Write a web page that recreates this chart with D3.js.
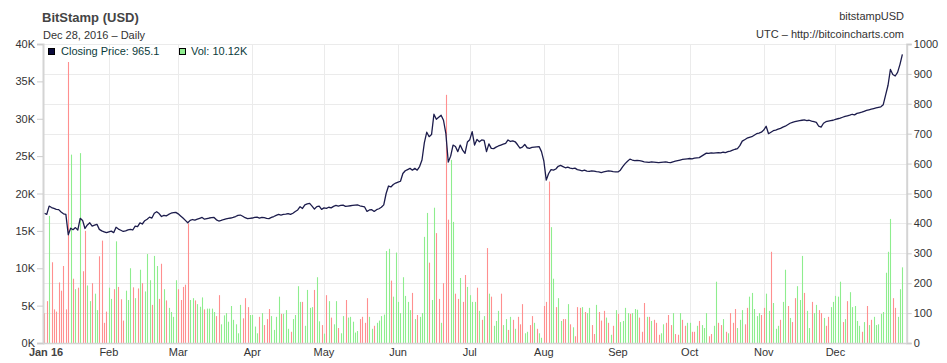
<!DOCTYPE html>
<html><head><meta charset="utf-8">
<script src="https://cdn.jsdelivr.net/npm/d3@7"></script>
<style>
html,body{margin:0;padding:0;background:#fff;}
svg{display:block;font-family:"Liberation Sans",Arial,sans-serif;}
</style></head><body>
<svg id="c" width="947" height="363"></svg>
<script>
// ---- data ----
const startDate = "2016-01-04";   // first daily bar (close)
const title = "BitStamp (USD)";
const subtitle = "Dec 28, 2016 \u2013 Daily";
const symbolLabel = "bitstampUSD";
const sourceLabel = "UTC \u2013 http://bitcoincharts.com";
const lastClose = "965.1";
const lastVol = "10.12K";
const volTicks = [0,5,10,15,20,25,30,35,40];
const priceTicks = [0,100,200,300,400,500,600,700,800,900,1000];
const monthLabels = ["Jan 16","Feb","Mar","Apr","May","Jun","Jul","Aug","Sep","Oct","Nov","Dec"];

// daily closing price (USD)
const closePrice = [
434,430,458,453,450,447,446,438,432,430,
362,384,379,386,378,417,410,383,395,402,
391,394,397,380,375,372,369,372,374,369,
387,381,377,373,375,378,380,378,391,389,
402,398,409,414,421,418,434,439,433,423,
427,425,430,434,436,437,432,425,418,410,
402,410,413,411,414,417,420,414,416,418,
419,420,412,408,410,413,415,417,418,420,
423,427,428,424,419,416,417,418,420,421,
418,420,419,417,416,420,423,427,430,428,
430,431,433,430,434,440,445,456,450,462,
465,467,458,448,456,458,447,452,450,454,
452,457,460,458,460,461,457,458,459,460,
461,462,459,457,455,440,445,446,440,446,
449,454,462,500,525,522,530,535,538,541,
567,576,580,584,578,584,578,590,612,670,
705,690,697,765,748,755,762,745,700,605,
625,662,657,640,662,645,634,672,680,707,
662,681,673,679,678,640,666,651,650,655,
659,662,665,668,679,674,676,673,663,652,
655,664,653,651,654,655,656,657,640,608,
545,567,580,578,582,591,594,590,586,588,
585,583,585,580,578,576,578,575,574,576,
575,573,572,570,572,574,576,575,573,572,
572,578,590,600,608,615,612,610,611,610,
608,606,605,604,606,605,604,603,604,605,
606,604,603,606,608,610,612,614,615,616,
617,616,618,619,620,625,630,635,634,636,
635,636,637,636,638,637,640,642,645,648,
650,660,675,680,685,688,690,695,700,702,
705,712,725,700,705,710,712,715,718,722,
725,730,735,738,740,742,744,745,746,744,
745,742,740,738,725,722,735,740,742,744,
745,748,750,752,755,758,760,762,765,763,
768,770,772,775,778,780,782,784,786,788,
790,797,830,862,915,898,893,905,932,965
];

// daily volume (thousand BTC)
const volumeK = [
4.0,5.6,17.0,10.8,4.5,4.2,8.1,7.0,10.3,4.5,
37.6,25.2,8.6,7.2,7.4,25.4,9.6,15.0,7.7,5.6,
8.0,6.6,4.4,11.6,13.7,2.7,4.2,7.4,5.9,7.2,
13.6,7.5,5.85,3.0,7.0,5.75,10.0,7.45,6.0,7.3,
9.8,8.0,6.9,11.9,8.4,5.1,11.65,10.3,5.9,10.6,
7.2,5.7,4.7,4.15,3.5,8.4,7.2,5.75,7.5,7.8,
16.0,5.75,6.0,5.7,5.2,4.85,6.1,4.5,4.6,4.6,
4.6,4.15,3.6,6.4,2.5,3.7,4.0,2.85,4.95,3.1,
2.5,1.3,5.1,3.3,6.0,4.8,3.75,3.75,
2.2,1.3,3.5,4.0,2.4,3.2,4.55,3.6,1.75,3.5,
6.2,3.9,3.9,4.4,1.9,1.5,3.2,3.75,7.6,5.5,
5.5,2.3,7.1,4.7,4.8,7.1,8.8,2.9,2.4,1.25,
6.4,5.6,3.4,2.5,5.6,2.0,1.3,3.6,5.75,3.4,
3.5,2.85,1.4,1.6,3.2,3.5,2.7,6.0,3.5,1.9,
2.3,2.7,3.0,3.6,3.8,12.3,12.6,8.35,6.2,12.1,
5.5,4.0,8.8,6.3,5.5,4.4,6.7,3.2,3.75,3.5,
4.0,14.2,17.4,10.75,5.75,18.1,14.7,5.9,2.7,8.0,
33.2,16.5,24.5,16.2,6.6,5.9,8.7,5.5,9.1,7.5,
6.4,5.5,
5.5,7.4,4.3,3.1,3.6,12.7,6.6,6.2,2.3,2.95,
4.3,6.6,2.4,3.2,1.75,3.5,3.1,1.9,3.5,2.5,
5.2,1.3,1.5,2.4,3.6,2.7,1.9,1.3,0.7,4.95,
5.5,21.6,15.5,8.6,4.8,6.0,2.95,3.2,3.2,5.2,
2.5,2.1,0.9,4.8,4.7,4.8,4.15,4.0,4.7,2.4,
1.2,5.1,4.15,3.0,4.3,3.4,2.7,1.1,2.3,4.4,
3.9,2.8,2.95,4.7,4.0,3.9,4.0,4.55,4.45,3.4,
1.5,5.35,3.5,3.5,2.95,3.1,2.7,1.1,1.3,2.5,
2.7,3.75,2.4,4.0,1.2,1.1,4.0,3.1,2.3,2.7,
2.7,
1.5,1.5,2.3,2.95,2.4,2.0,4.0,0.9,1.2,2.3,
8.2,2.7,2.4,3.2,1.5,1.3,4.0,2.7,4.55,2.0,
3.1,4.4,2.5,4.7,6.2,6.7,4.55,3.6,4.0,3.75,
4.7,6.6,4.3,12.2,5.35,1.9,2.3,3.1,5.5,9.8,
4.95,3.35,2.8,6.0,7.6,5.75,11.65,6.7,4.3,2.0,
5.5,4.0,5.1,4.4,4.0,3.35,2.3,3.5,4.8,5.5,
6.3,6.2,8.2,2.8,3.2,5.6,6.8,4.8,4.95,2.95,
2.3,1.5,2.8,4.95,2.4,3.1,3.5,2.4,2.5,3.9,
4.15,9.4,12.2,16.6,6.0,4.7,3.5,7.2,10.12
];

// bar colour: g = close up, r = close down
const volDir = (
"rrgrrrrrrr"+"rgrgrgrrgg"+"rggrrrrggr"+"grrrgggrgr"+
"grgggrggrr"+"grggggrrrr"+"rggrgggrgg"+"ggrrgggggg"+
"gggrrrgg"+
"ggrgrrrggg"+"grgggrgggg"+"rggggrggrg"+"rgrggrggrg"+
"ggggrrrrgg"+"rggggggrgg"+"ggggggrgrg"+"gggrggrrgr"+
"rrggrrgrrg"+"gg"+
"grgrgrgrgg"+"grggrgrgrr"+"rggrrgrggr"+"rrggrggrrg"+
"rgrrrgrggr"+"rgrrrgrgrg"+"rggggrgggr"+"rrgrgrrrgg"+
"rrrgrrgrrg"+"g"+
"rrgrgggrrg"+"grrgrgrrrg"+"ggrrgggggr"+"rggrgggrgg"+
"rgrrgggrgg"+"rggrrgrrgg"+"gggrgrgggg"+"grgrgrgggg"+
"ggggrrggg").split("");

// ---- drawing ----
const svg = d3.select("#c");
const parse = d3.utcParse("%Y-%m-%d");
const day0 = parse(startDate);
const data = closePrice.map((p,i)=>({
  date: d3.utcDay.offset(day0, i),
  price: p,
  vol: volumeK[i],
  dir: volDir[i] || "g"
}));

const plotL = 43, plotR = 906.7, plotT = 44, plotB = 343;
const x = d3.scaleUtc()
  .domain([new Date(Date.UTC(2016,0,1)), new Date(Date.UTC(2017,0,1))])
  .range([34.8, 34.8 + 366*2.39]);
const yP = d3.scaleLinear().domain([0,1000]).range([plotB, plotT]);
const yV = d3.scaleLinear().domain([0,40]).range([plotB, plotT]);
const xPos = d => x(d3.utcDay.offset(d.date, 1)); // plotted at close time

// gridlines
const grid = svg.append("g");
const months = d3.utcMonth.range(new Date(Date.UTC(2016,1,1)), new Date(Date.UTC(2016,11,2)));
grid.selectAll("line.v").data(months).join("line")
  .attr("x1", d=>Math.round(x(d))+0.5).attr("x2", d=>Math.round(x(d))+0.5)
  .attr("y1", plotT).attr("y2", plotB)
  .attr("stroke", "#ebebeb").attr("stroke-width", 1);
grid.selectAll("line.h").data(priceTicks.slice(1)).join("line")
  .attr("x1", plotL).attr("x2", plotR)
  .attr("y1", d=>Math.round(yP(d))+0.5).attr("y2", d=>Math.round(yP(d))+0.5)
  .attr("stroke", "#ebebeb").attr("stroke-width", 1);

// volume bars
svg.append("g").selectAll("line").data(data).join("line")
  .attr("x1", d=>Math.round(xPos(d))+0.5).attr("x2", d=>Math.round(xPos(d))+0.5)
  .attr("y1", plotB).attr("y2", d=>yV(d.vol))
  .attr("stroke", d=>d.dir==="r" ? "#ff8f8f" : "#8eed8e")
  .attr("stroke-width", 1.1);

// price line
svg.append("path").datum(data)
  .attr("fill","none").attr("stroke","#1c1c4c").attr("stroke-width",1.3)
  .attr("stroke-linejoin","round")
  .attr("d", d3.line().x(xPos).y(d=>yP(d.price)));

// axes
const axL = svg.append("g").attr("transform",`translate(${plotL},0)`)
  .call(d3.axisLeft(yV).tickValues(volTicks).tickFormat(d=>d+"K").tickSize(6).tickPadding(2));
const axR = svg.append("g").attr("transform",`translate(${plotR},0)`)
  .call(d3.axisRight(yP).tickValues(priceTicks).tickFormat(d3.format("d")).tickSize(5).tickPadding(2));
[axL, axR].forEach(a=>{
  a.select(".domain").attr("stroke","#d4d4d4").attr("stroke-width",2);
  a.selectAll(".tick line").attr("stroke","#cccccc");
  a.selectAll(".tick text").attr("fill","#333").attr("font-size","11px")
    .attr("font-family",'"Liberation Sans",Arial,sans-serif');
});
svg.append("line").attr("x1",plotL).attr("x2",plotR).attr("y1",plotB+0.5).attr("y2",plotB+0.5)
  .attr("stroke","#d4d4d4").attr("stroke-width",1.5);

// x labels
const xl = svg.append("g").attr("font-size","11px").attr("fill","#333");
const labelDates = [null].concat(months);
monthLabels.forEach((m,i)=>{
  const cx = i===0 ? 46 : x(labelDates[i]);
  xl.append("text").attr("x",cx).attr("y",356).attr("text-anchor","middle")
    .attr("font-weight", i===0 ? "bold":"normal").attr("fill", i===0 ? "#444":"#333")
    .text(m);
});

// titles
svg.append("text").attr("x",42).attr("y",22).attr("font-size","13px").attr("font-weight","bold")
  .attr("fill","#444").text(title);
svg.append("text").attr("x",43).attr("y",39).attr("font-size","11px").attr("fill","#333").text(subtitle);
svg.append("text").attr("x",904).attr("y",20).attr("font-size","11px").attr("fill","#333")
  .attr("text-anchor","end").text(symbolLabel);
svg.append("text").attr("x",904).attr("y",38).attr("font-size","11px").attr("fill","#333")
  .attr("text-anchor","end").text(sourceLabel);

// legend
const lg = svg.append("g").attr("font-size","11px");
lg.append("rect").attr("x",48.5).attr("y",48.5).attr("width",6).attr("height",6)
  .attr("fill","#0a0a3c").attr("stroke","#000").attr("stroke-width",1);
lg.append("text").attr("x",61).attr("y",55).attr("fill","#0b3b3b").text("Closing Price: " + lastClose);
lg.append("rect").attr("x",179.5).attr("y",48.5).attr("width",6).attr("height",6)
  .attr("fill","#90ee90").attr("stroke","#000").attr("stroke-width",1);
lg.append("text").attr("x",191).attr("y",55).attr("fill","#0b3b3b").text("Vol: " + lastVol);
</script>
</body></html>
